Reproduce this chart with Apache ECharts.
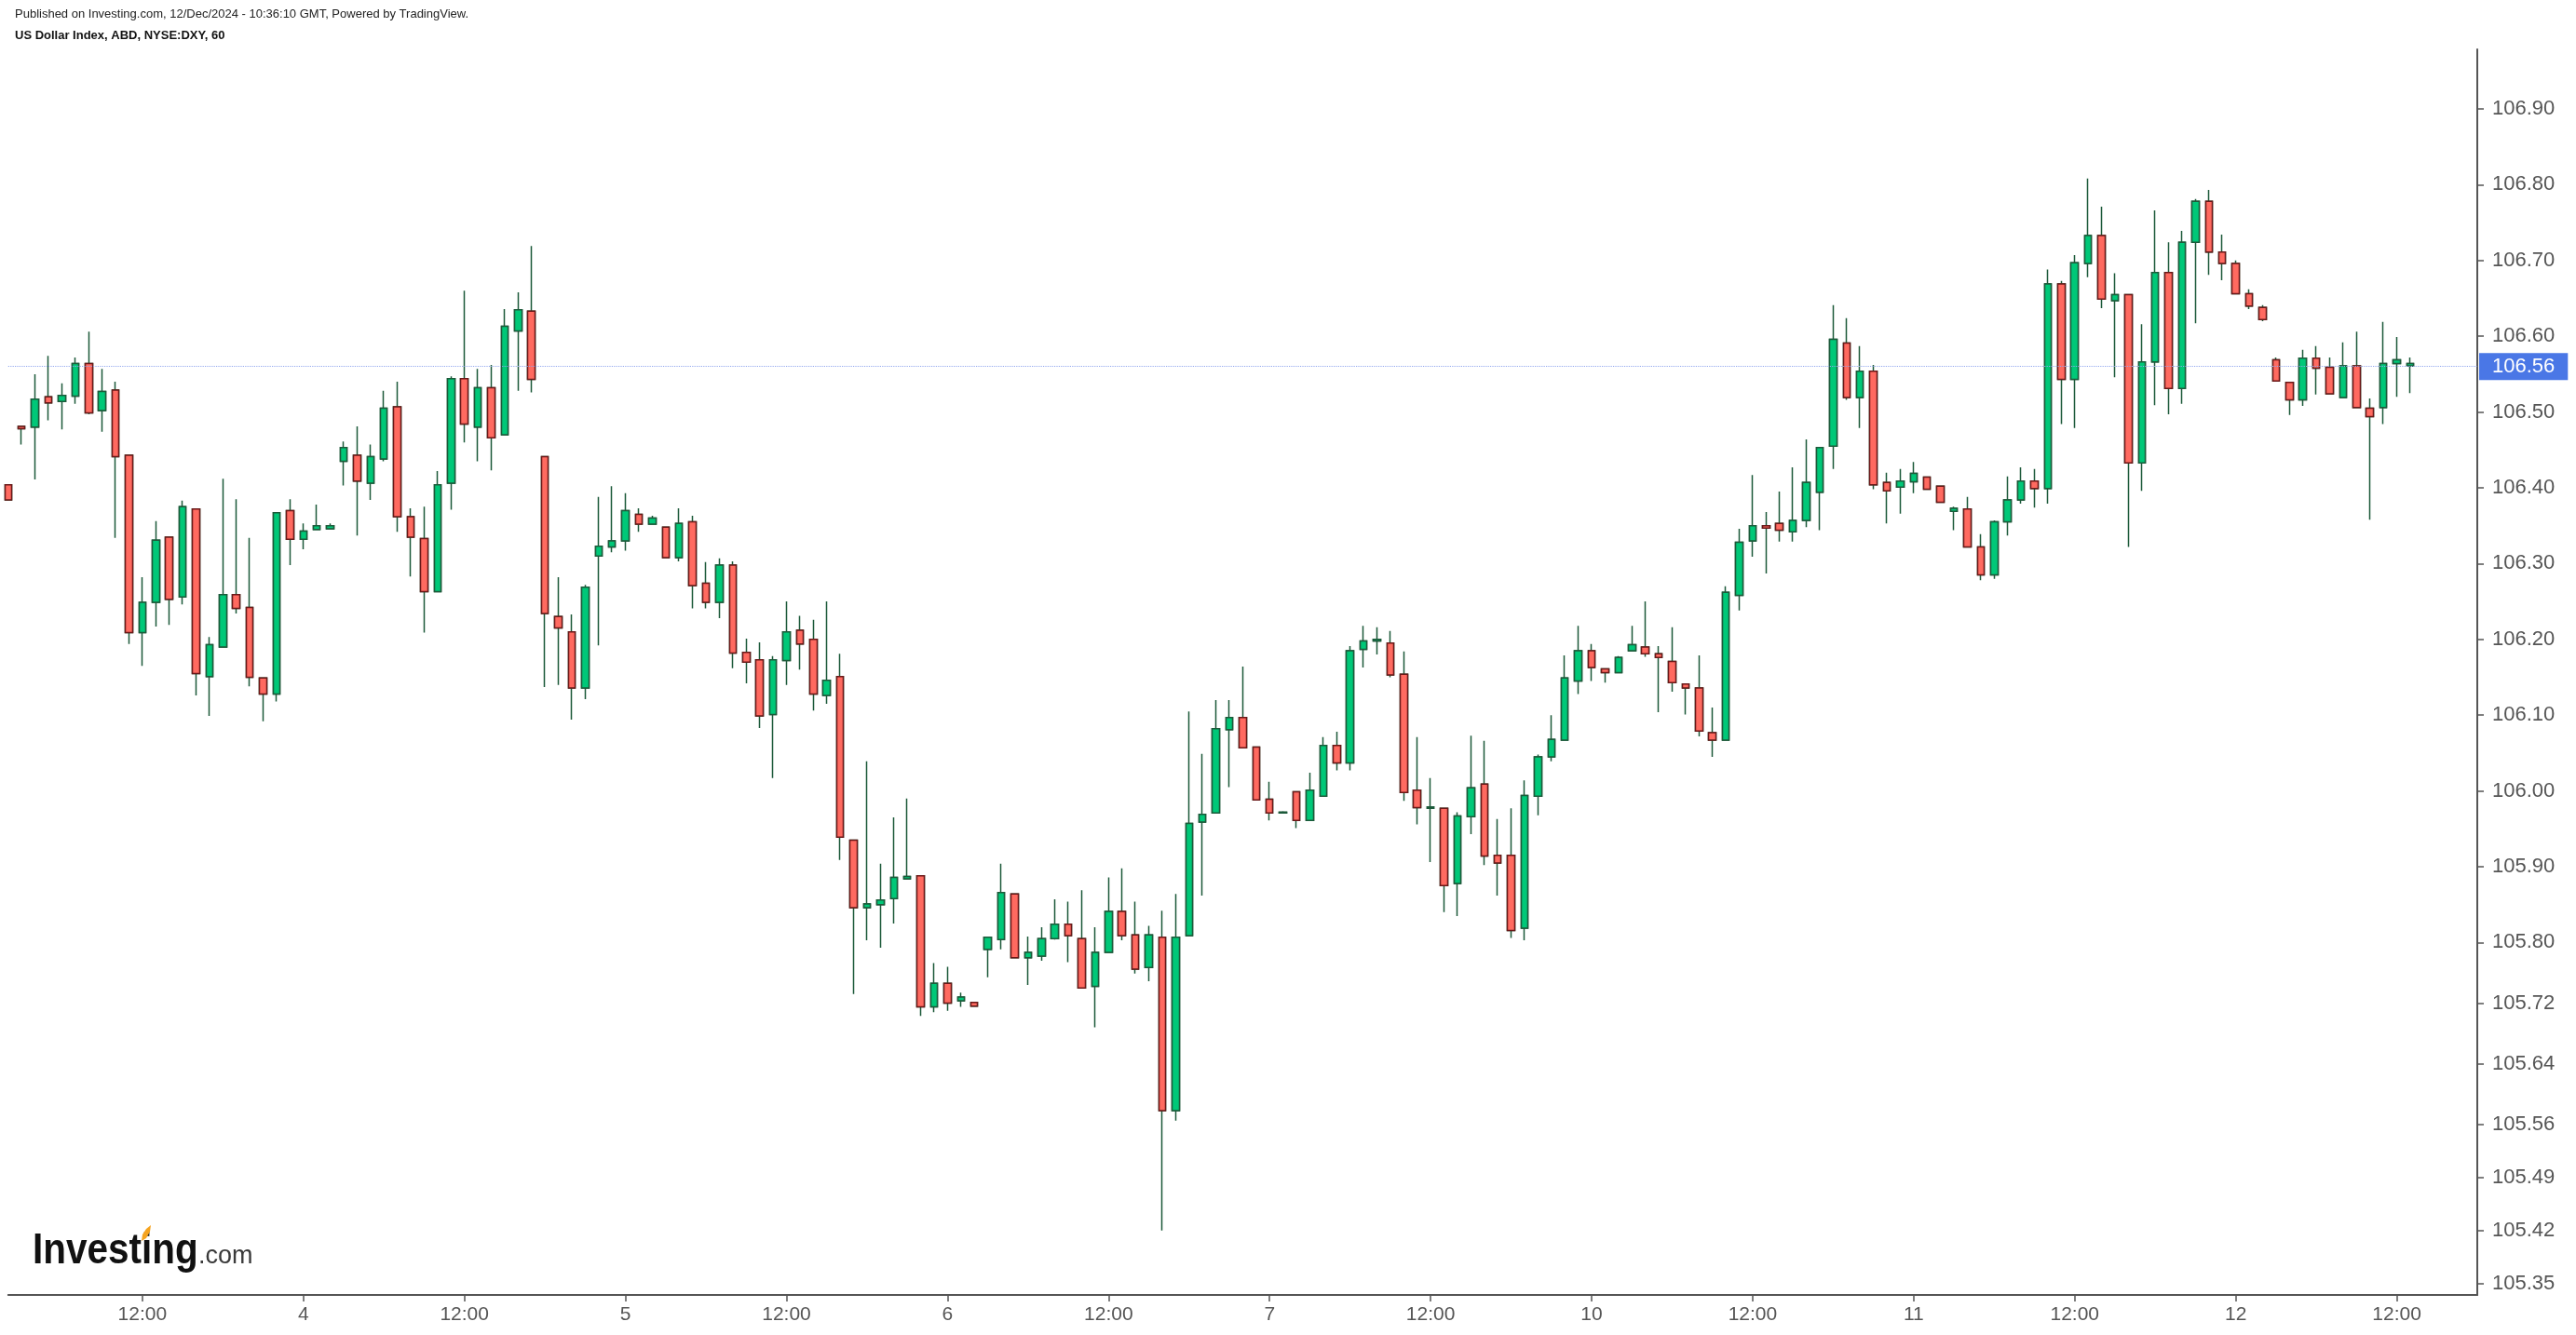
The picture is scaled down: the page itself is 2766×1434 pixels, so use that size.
<!DOCTYPE html>
<html>
<head>
<meta charset="utf-8">
<script src="https://cdn.jsdelivr.net/npm/echarts@6/dist/echarts.min.js"></script>
<style>
html,body{margin:0;padding:0;background:#ffffff;}
#chart{width:2766px;height:1434px;}
</style>
</head>
<body>
<div id="chart"></div>
<script>
// ---- DATA ----
const dayLabels = [3, 4, 5, 6, 7, 10, 11, 12];
const firstHour = 2;        // first hourly candle on day 3
const lastSlotHour = 18;    // empty slots after the last candle on day 12
const xLabelHours = [0, 12];
const yTickLabels = [106.90, 106.80, 106.70, 106.60, 106.50, 106.40, 106.30, 106.20, 106.10, 106.00,
                     105.90, 105.80, 105.72, 105.64, 105.56, 105.49, 105.42, 105.35];

const openVals = [
106.404,106.481,106.480,106.520,106.514,106.521,106.564,106.502,106.529,106.443,
106.209,106.249,106.335,106.256,106.372,106.151,106.190,106.259,106.242,106.149,
106.128,106.370,106.332,106.345,106.346,106.435,106.443,106.406,106.438,106.507,
106.362,106.333,106.263,106.406,106.544,106.480,106.532,106.470,106.607,106.633,
106.441,106.230,106.210,106.136,106.310,106.322,106.330,106.365,106.352,106.348,
106.308,106.355,106.274,106.249,106.298,106.183,106.173,106.101,106.172,106.212,
106.200,106.126,106.151,105.935,105.846,105.850,105.858,105.884,105.888,105.715,
105.746,105.723,105.721,105.791,105.804,105.864,105.780,105.782,105.805,105.824,
105.805,105.742,105.787,105.841,105.810,105.767,105.807,105.578,105.809,105.959,
105.971,106.081,106.097,106.058,105.989,105.971,105.999,105.961,105.993,106.060,
106.037,106.187,106.198,106.195,106.154,106.001,105.977,105.977,105.878,105.966,
106.009,105.915,105.915,105.819,105.993,106.045,106.067,106.145,106.185,106.161,
106.156,106.185,106.190,106.181,106.171,106.141,106.136,106.077,106.067,106.258,
106.330,106.350,106.353,106.342,106.357,106.394,106.455,106.591,106.519,106.554,
106.407,106.401,106.408,106.414,106.402,106.369,106.372,106.322,106.285,106.355,
106.384,106.409,106.399,106.669,106.543,106.696,106.733,106.647,106.655,106.433,
106.566,106.684,106.531,106.724,106.778,106.711,106.696,106.656,106.638,106.569,
106.539,106.516,106.571,106.559,106.519,106.561,106.505,106.506,106.564,106.561];

const highVals = [
106.405,106.482,106.550,106.574,106.538,106.572,106.606,106.557,106.540,106.443,
106.282,106.356,106.335,106.383,106.372,106.203,106.412,106.385,106.334,106.149,
106.367,106.385,106.353,106.378,106.353,106.461,106.481,106.457,106.528,106.540,
106.373,106.375,106.422,106.547,106.660,106.557,106.562,106.636,106.658,106.719,
106.441,106.282,106.233,106.272,106.388,106.402,106.393,106.373,106.363,106.348,
106.373,106.363,106.302,106.307,106.303,106.201,106.196,106.178,106.250,106.231,
106.226,106.250,106.181,105.935,106.039,105.904,105.965,105.990,105.888,105.773,
105.768,105.734,105.721,105.807,105.904,105.864,105.808,105.820,105.857,105.854,
105.869,105.820,105.886,105.898,105.854,105.822,105.842,105.864,106.105,106.049,
106.120,106.120,106.164,106.058,106.012,105.973,105.999,106.024,106.071,106.078,
106.191,106.218,106.216,106.211,106.184,106.071,106.017,105.977,105.972,106.073,
106.066,105.963,105.977,106.014,106.048,106.100,106.179,106.218,106.194,106.161,
106.178,106.218,106.250,106.191,106.216,106.141,106.179,106.110,106.270,106.346,
106.417,106.368,106.395,106.427,106.464,106.453,106.641,106.624,106.587,106.562,
106.420,106.425,106.434,106.414,106.402,106.375,106.388,106.339,106.357,106.415,
106.427,106.425,106.688,106.673,106.707,106.808,106.771,106.683,106.655,106.616,
106.766,106.724,106.739,106.781,106.793,106.734,106.700,106.662,106.641,106.572,
106.539,106.582,106.587,106.572,106.592,106.606,106.518,106.619,106.599,106.572];

const lowVals = [
106.383,106.457,106.411,106.489,106.477,106.511,106.497,106.474,106.334,106.194,
106.165,106.217,106.219,106.246,106.126,106.099,106.190,106.234,106.138,106.092,
106.118,106.298,106.319,106.345,106.346,106.403,106.337,106.384,106.435,106.342,
106.283,106.209,106.263,106.371,106.460,106.435,106.423,106.470,106.528,106.526,
106.137,106.140,106.094,106.121,106.192,106.315,106.317,106.342,106.352,106.308,
106.303,106.241,106.241,106.228,106.162,106.142,106.083,106.017,106.140,106.160,
106.106,106.115,105.909,105.732,105.803,105.793,105.825,105.884,105.703,105.708,
105.710,105.715,105.716,105.754,105.791,105.780,105.744,105.776,105.804,105.774,
105.740,105.688,105.787,105.803,105.759,105.749,105.420,105.565,105.809,105.862,
105.971,106.005,106.057,105.988,105.961,105.970,105.951,105.961,105.993,106.027,
106.027,106.163,106.180,106.150,105.987,105.956,105.906,105.840,105.835,105.943,
105.902,105.862,105.806,105.803,105.968,106.039,106.067,106.128,106.145,106.143,
106.156,106.185,106.177,106.104,106.131,106.101,106.072,106.045,106.067,106.238,
106.309,106.287,106.329,106.329,106.348,106.344,106.425,106.516,106.479,106.398,
106.353,106.366,106.393,106.398,106.381,106.344,106.322,106.278,106.280,106.337,
106.379,106.374,106.379,106.484,106.479,106.678,106.637,106.546,106.322,106.396,
106.509,106.497,106.511,106.617,106.681,106.674,106.656,106.636,106.620,106.541,
106.496,106.508,106.523,106.524,106.519,106.506,106.358,106.484,106.520,106.525];

const closeVals = [
106.384,106.478,106.517,106.512,106.522,106.564,106.499,106.527,106.441,106.209,
106.249,106.331,106.253,106.375,106.155,106.193,106.259,106.241,106.150,106.128,
106.367,106.332,106.343,106.350,106.350,106.453,106.409,106.441,106.505,106.362,
106.335,106.263,106.404,106.544,106.484,106.532,106.466,106.613,106.635,106.543,
106.234,106.215,106.136,106.269,106.323,106.330,106.370,106.352,106.360,106.308,
106.353,106.271,106.249,106.298,106.182,106.170,106.099,106.173,106.210,106.194,
106.128,106.146,105.939,105.846,105.851,105.856,105.886,105.887,105.715,105.746,
105.720,105.728,105.716,105.807,105.866,105.780,105.787,105.805,105.824,105.809,
105.740,105.787,105.841,105.809,105.765,105.810,105.578,105.807,105.957,105.969,
106.082,106.097,106.057,105.988,105.971,105.972,105.961,106.001,106.060,106.037,
106.185,106.198,106.200,106.153,105.998,105.978,105.979,105.875,105.967,106.004,
105.914,105.905,105.816,105.994,106.045,106.068,106.149,106.185,106.163,106.156,
106.176,106.193,106.181,106.176,106.143,106.136,106.079,106.067,106.262,106.328,
106.350,106.347,106.344,106.357,106.407,106.453,106.596,106.519,106.554,106.404,
106.396,106.409,106.419,106.398,106.381,106.373,106.322,106.285,106.355,106.384,
106.409,106.399,106.669,106.543,106.697,106.733,106.649,106.655,106.433,106.566,
106.684,106.531,106.724,106.778,106.711,106.696,106.656,106.640,106.622,106.541,
106.516,106.571,106.558,106.524,106.561,106.506,106.494,106.564,106.569,106.564];

// ---- BUILD ----
const FONT = '"Liberation Sans", Arial, sans-serif';
const UP = '#00C878', DOWN = '#FF6A60', UP_EDGE = '#1C5A3A', DOWN_EDGE = '#6A1818';
const AXIS = '#555555';

const categories = [];
dayLabels.forEach((d, di) => {
  const start = di === 0 ? firstHour : 0;
  const end = di === dayLabels.length - 1 ? lastSlotHour : 23;
  for (let h = start; h <= end; h++) categories.push(d + '|' + h);
});
const hourOf = v => +String(v).split('|')[1];
const dayOf = v => String(v).split('|')[0];
const showCat = (i, v) => xLabelHours.indexOf(hourOf(v)) >= 0;

const ohlc = openVals.map((o, i) => {
  const c = closeVals[i];
  return [o, c, Math.min(lowVals[i], o, c), Math.max(highVals[i], o, c)];
});
const bodies = openVals.map((o, i) => {
  const c = closeVals[i];
  return [o, c, Math.min(o, c), Math.max(o, c)];
});
const lastClose = closeVals[closeVals.length - 1];

const chart = echarts.init(document.getElementById('chart'), null, {renderer: 'canvas'});
chart.setOption({
  animation: false,
  backgroundColor: '#ffffff',
  grid: {left: 8.8, right: 106, top: 53, bottom: 43, containLabel: false, outerBoundsMode: 'none'},
  xAxis: {
    type: 'category',
    data: categories,
    boundaryGap: false,
    axisLine: {show: true, lineStyle: {color: AXIS, width: 2}},
    axisTick: {show: true, interval: showCat, length: 7, lineStyle: {color: AXIS, width: 1.5}},
    axisLabel: {
      interval: showCat,
      formatter: v => hourOf(v) === 0 ? dayOf(v) : '12:00',
      fontSize: 21, color: AXIS, margin: 11, fontFamily: FONT
    },
    splitLine: {show: false}
  },
  yAxis: {
    type: 'value',
    position: 'right',
    min: 105.3349,
    max: 106.9786,
    splitLine: {show: false},
    axisLine: {show: true, lineStyle: {color: AXIS, width: 2}},
    axisTick: {show: true, customValues: yTickLabels, length: 7, lineStyle: {color: AXIS, width: 1.5}},
    axisLabel: {
      customValues: yTickLabels,
      formatter: v => Number(v).toFixed(2),
      fontSize: 22, color: AXIS, margin: 16, fontFamily: FONT
    }
  },
  series: [
    {
      type: 'candlestick',
      data: ohlc,
      barWidth: 8,
      silent: true,
      clip: true,
      itemStyle: {color: UP, color0: DOWN, borderColor: UP_EDGE, borderColor0: UP_EDGE, borderWidth: 1.5}
    },
    {
      type: 'candlestick',
      data: bodies,
      barWidth: 8,
      silent: true,
      clip: true,
      itemStyle: {color: UP, color0: DOWN, borderColor: UP_EDGE, borderColor0: DOWN_EDGE, borderWidth: 1.5},
      markLine: {
        silent: true,
        symbol: ['none', 'none'],
        animation: false,
        data: [{yAxis: lastClose}],
        lineStyle: {color: '#93A8EE', type: 'dotted', width: 1.2},
        label: {
          show: true,
          position: 'end',
          distance: 2,
          formatter: () => lastClose.toFixed(2),
          color: '#ffffff',
          backgroundColor: '#4A77E6',
          fontSize: 22,
          fontFamily: FONT,
          padding: [4, 14, 3, 14]
        },
        emphasis: {disabled: true}
      }
    }
  ],
  graphic: [
    {type: 'text', x: 16, y: 9, silent: true,
     style: {text: 'Published on Investing.com, 12/Dec/2024 - 10:36:10 GMT, Powered by TradingView.',
             fontSize: 13, fontFamily: FONT, fill: '#222222'}},
    {type: 'text', x: 16, y: 32, silent: true,
     style: {text: 'US Dollar Index, ABD, NYSE:DXY, 60', fontSize: 13, fontWeight: 'bold', fontFamily: FONT, fill: '#111111'}},
    {type: 'text', x: 35, y: 1344, scaleX: 0.88, silent: true,
     style: {text: 'Investing', fontSize: 46, fontWeight: 'bold', fontFamily: FONT, fill: '#111111', verticalAlign: 'middle'}},
    {type: 'text', x: 213, y: 1350, silent: true,
     style: {text: '.com', fontSize: 27, fontFamily: FONT, fill: '#3a3a3a', verticalAlign: 'middle'}},
    {type: 'polygon', silent: true,
     shape: {points: [[152, 1333], [153, 1326], [157, 1320], [162, 1316], [161, 1323], [157, 1330]]},
     style: {fill: '#F5A31F'}}
  ]
});
</script>
</body>
</html>
